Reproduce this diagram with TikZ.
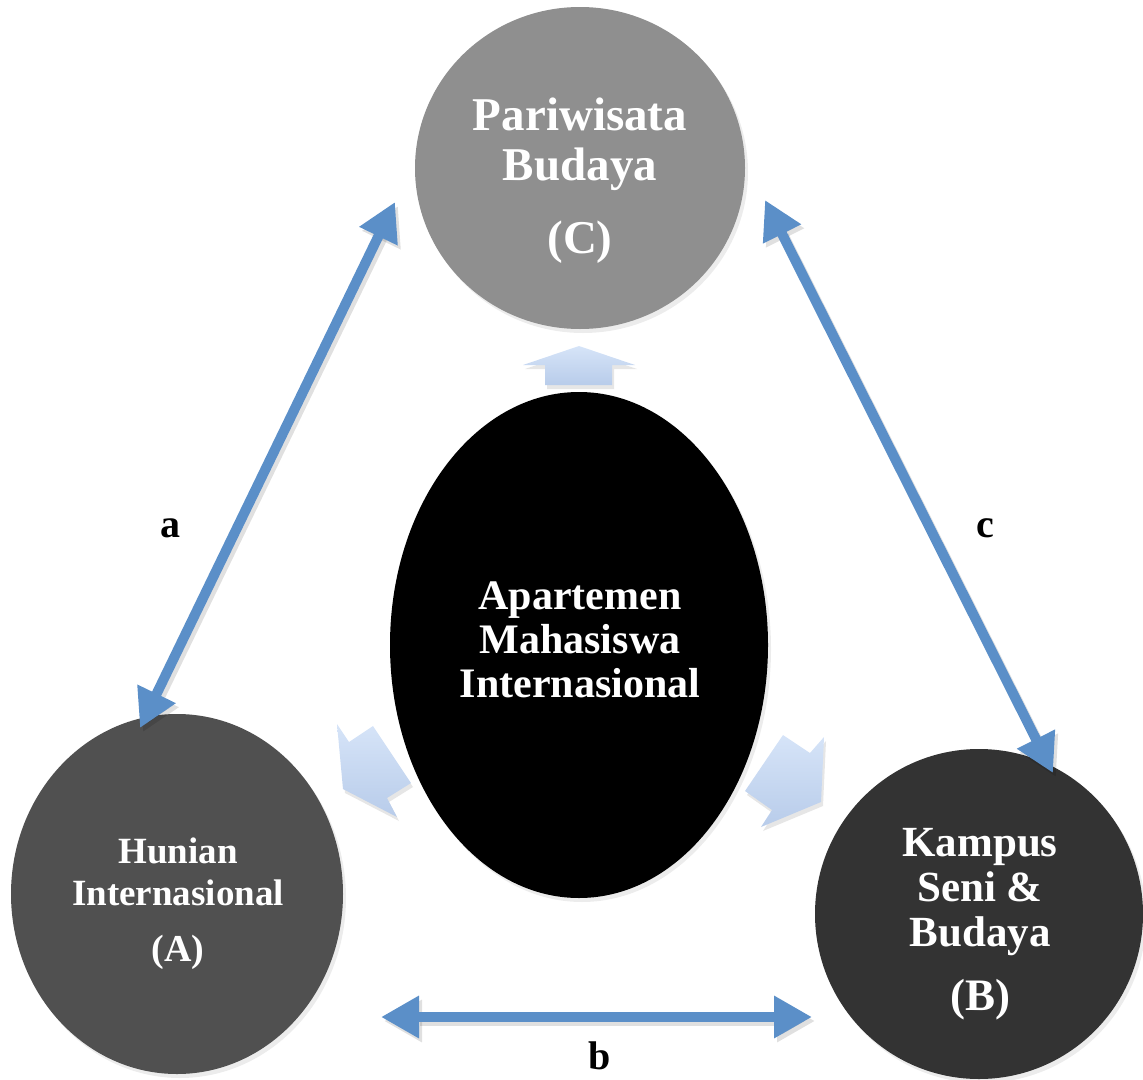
\documentclass[tikz,border=0pt]{standalone}
\usepackage{fontspec}
\setmainfont{Liberation Serif}
\usetikzlibrary{arrows.meta,shadows,shapes.geometric}
\definecolor{cblue}{HTML}{5B8FC8}
\definecolor{ltop}{HTML}{D6E4F8}
\definecolor{lbot}{HTML}{B8CCEA}
\definecolor{grayC}{HTML}{8F8F8F}
\definecolor{grayA}{HTML}{505050}
\definecolor{grayB}{HTML}{333333}
\tikzset{
  bubble/.style={ellipse, inner sep=0pt, draw=none,
    drop shadow={opacity=0.15, shadow xshift=3pt, shadow yshift=-4pt}},
  wtext/.style={text=white, align=center, inner sep=0pt,
    font=\bfseries\fontsize{42}{44}\selectfont},
  btext/.style={text=black, inner sep=0pt,
    font=\bfseries\fontsize{40}{44}\selectfont},
  blockarrow/.style={top color=ltop, bottom color=lbot,
    drop shadow={opacity=0.2, shadow xshift=2pt, shadow yshift=-4pt}},
  link/.style={draw=cblue, line width=10pt,
    {Triangle[length=38pt,width=40pt]}-{Triangle[length=38pt,width=40pt]}},
  linkshadow/.style={draw=black, opacity=0.12, line width=10pt,
    {Triangle[length=38pt,width=40pt]}-{Triangle[length=38pt,width=40pt]}}
}
\begin{document}
\begin{tikzpicture}[x=1pt,y=-1pt]
\useasboundingbox (0,0) rectangle (1143,1079);
% circles
\node[bubble, fill=grayC, minimum width=330pt, minimum height=322pt] (C) at (580,168) {};
\node[bubble, fill=grayA, minimum width=332pt, minimum height=360pt] (A) at (177,894) {};
\node[bubble, fill=grayB, minimum width=328pt, minimum height=330pt] (B) at (979,914) {};
\node[bubble, fill=black, minimum width=378pt, minimum height=506pt] (M) at (579,645) {};
% texts
\node[wtext, font=\bfseries\fontsize{47}{50}\selectfont] (Ct) at (580,144) {Pariwisata\\Budaya};
\node[wtext, font=\bfseries\fontsize{47}{50}\selectfont] (Cl) at (580,242) {(C)};
\node[wtext] (Mt) at (580,640) {Apartemen\\Mahasiswa\\Internasional};
\node[wtext, font=\bfseries\fontsize{37}{42}\selectfont] (At) at (178,872) {Hunian\\Internasional};
\node[wtext, font=\bfseries\fontsize{38}{42}\selectfont] (Al) at (178,952) {(A)};
\node[wtext, font=\bfseries\fontsize{43}{45}\selectfont] (Bt) at (980,892) {Kampus\\Seni \&\\Budaya};
\node[wtext, font=\bfseries\fontsize{45}{45}\selectfont] (Bl) at (980,1000) {(B)};
% block arrows
\path[blockarrow] (579,346) -- (635,365) -- (612,365) -- (612,385) -- (545,385) -- (545,365) -- (523,365) -- cycle;
\path[blockarrow] (373,726) -- (349,742) -- (337,724) -- (343,789) -- (397,817) -- (387,798) -- (411,783) -- cycle;
\path[blockarrow] (783,735) -- (810,753) -- (824,737) -- (821,802) -- (761,827) -- (772,810) -- (745,791) -- cycle;
% connectors
\coordinate (aC) at (395,202);
\coordinate (aA) at (140,728);
\coordinate (cC) at (765,200);
\coordinate (cB) at (1053,773);
\coordinate (bA) at (381,1017);
\coordinate (bB) at (812,1017);
\path[linkshadow] ([shift={(3,4)}]aC) -- ([shift={(3,4)}]aA);
\path[linkshadow] ([shift={(3,4)}]cC) -- ([shift={(3,4)}]cB);
\path[linkshadow] ([shift={(3,4)}]bA) -- ([shift={(3,4)}]bB);
\path[link] (aC) -- (aA);
\path[link] (cC) -- (cB);
\path[link] (bA) -- (bB);
% labels
\node[btext] (la) at (170,528) {a};
\node[btext] (lc) at (985,528) {c};
\node[btext] (lb) at (600,1056) {b};
\end{tikzpicture}
\end{document}
